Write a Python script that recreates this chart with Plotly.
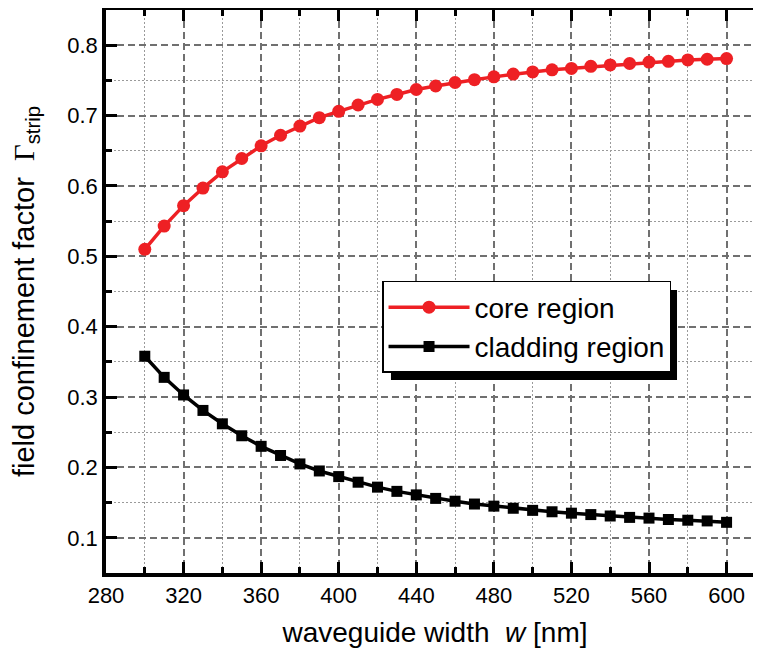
import plotly.graph_objects as go

width_nm = [300, 310, 320, 330, 340, 350, 360, 370, 380, 390, 400, 410, 420, 430, 440, 450,
            460, 470, 480, 490, 500, 510, 520, 530, 540, 550, 560, 570, 580, 590, 600]
core = [0.510, 0.543, 0.572, 0.597, 0.620, 0.639, 0.657, 0.672, 0.685, 0.697, 0.706, 0.715,
        0.723, 0.730, 0.737, 0.742, 0.747, 0.751, 0.755, 0.759, 0.762, 0.765, 0.767, 0.770,
        0.772, 0.774, 0.776, 0.777, 0.779, 0.780, 0.781]
cladding = [0.358, 0.328, 0.303, 0.281, 0.262, 0.245, 0.230, 0.217, 0.205, 0.195, 0.187, 0.179,
            0.172, 0.166, 0.161, 0.156, 0.152, 0.148, 0.145, 0.142, 0.139, 0.137, 0.135, 0.133,
            0.131, 0.129, 0.128, 0.126, 0.125, 0.124, 0.122]
names = ["core region", "cladding region"]

FONT = "Liberation Sans, Arial, sans-serif"

fig = go.Figure()
fig.add_trace(go.Scatter(x=width_nm, y=core, mode="lines+markers", name=names[0],
                         line=dict(color="#ee2024", width=3.5),
                         marker=dict(symbol="circle", size=13, color="#ee2024")))
fig.add_trace(go.Scatter(x=width_nm, y=cladding, mode="lines+markers", name=names[1],
                         line=dict(color="black", width=3.5),
                         marker=dict(symbol="square", size=11, color="black")))

axis_common = dict(
    showline=True, linecolor="black", linewidth=3.5, mirror="ticks",
    ticks="inside", tickcolor="black", tickwidth=3, ticklen=11,
    showgrid=True, gridcolor="#707070", gridwidth=1.5, griddash="7px,4px",
    zeroline=False, automargin=False,
    tickfont=dict(family=FONT, size=22, color="black"),
)
minor_common = dict(ticks="inside", ticklen=6, tickwidth=3, tickcolor="black",
                    showgrid=True, gridcolor="#9a9a9a", gridwidth=1, griddash="2px,2px")

fig.update_xaxes(**axis_common, range=[280, 619.3], tick0=280, dtick=40,
                 minor=dict(dtick=20, tick0=280, **minor_common),
                 title=dict(text="waveguide width  <i>w</i> [nm]", standoff=16,
                            font=dict(family=FONT, size=28, color="black")))
fig.update_yaxes(**axis_common, range=[0.05, 0.85], tick0=0.1, dtick=0.1,
                 minor=dict(dtick=0.05, tick0=0.05, **minor_common),
                 title=dict(text="field confinement factor  <span style=\"font-family:Liberation Serif, Times New Roman, serif\">Γ</span><sub>strip</sub>",
                            standoff=30,
                            font=dict(family=FONT, size=29, color="black")))

# legend drop shadow
fig.add_shape(type="rect", xref="paper", yref="paper", x0=0.4331, x1=0.8678, y0=0.3428, y1=0.5027,
              fillcolor="black", line=dict(width=0), layer="above")

fig.update_layout(
    width=775, height=648,
    margin=dict(l=98, r=19, t=2, b=83),
    paper_bgcolor="white", plot_bgcolor="white",
    showlegend=True,
    legend=dict(x=0.4195, y=0.5187, xanchor="left", yanchor="top",
                bgcolor="white", bordercolor="black", borderwidth=1.5,
                font=dict(family=FONT, size=28, color="black"),
                itemwidth=81, tracegroupgap=0),
)

fig.write_html("out.html")
